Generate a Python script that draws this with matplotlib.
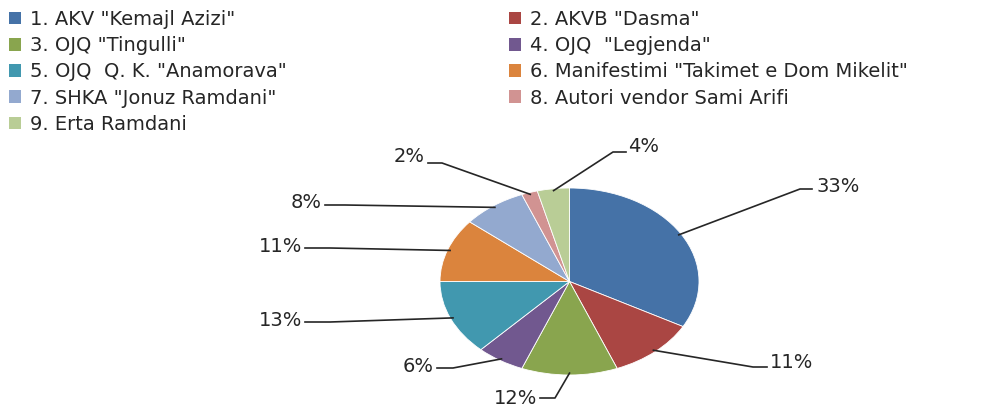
import numpy as np
import matplotlib
matplotlib.use("Agg")
import matplotlib.pyplot as plt
from matplotlib.patches import Patch

categories = ['1. AKV "Kemajl Azizi"', '2. AKVB "Dasma"', '3. OJQ "Tingulli"',
              '4. OJQ  "Legjenda"', '5. OJQ  Q. K. "Anamorava"',
              '6. Manifestimi "Takimet e Dom Mikelit"', '7. SHKA "Jonuz Ramdani"',
              '8. Autori vendor Sami Arifi', '9. Erta Ramdani']
values = [33, 11, 12, 6, 13, 11, 8, 2, 4]
pct_labels = ['33%', '11%', '12%', '6%', '13%', '11%', '8%', '2%', '4%']
colors = ['#4572A7', '#AA4643', '#89A54E', '#71588F', '#4198AF',
          '#DB843D', '#93A9CF', '#D19392', '#B9CD96']

W, H = 1001, 408
fig = plt.figure(figsize=(W / 100, H / 100), dpi=100)

# pie ellipse in pixels: center (569.5, 281.5), rx 129.5, ry 93.5
cx, cy, rx, ry = 569.5, 281.5, 129.5, 93.5
ax = fig.add_axes([(cx - rx) / W, (H - (cy + ry)) / H, 2 * rx / W, 2 * ry / H])
wedges, _ = ax.pie(values, colors=colors, startangle=90, counterclock=False,
                   radius=1, center=(0, 0), frame=True,
                   wedgeprops=dict(edgecolor='white', linewidth=0.6))
ax.set_aspect('auto')
ax.set_xlim(-1, 1)
ax.set_ylim(-1, 1)
ax.axis('off')

def to_data(px, py):
    return (px - cx) / rx, (cy - py) / ry

FS = 14
# label layout: elbow point, end of horizontal segment, text position (pixels)
layout = [
    ((800, 189), (812, 189), (816, 186, 'left')),
    ((753, 367), (767, 367), (770, 362, 'left')),
    ((555, 398), (540, 398), (537, 399, 'right')),
    ((453, 368), (437, 368), (434, 366, 'right')),
    ((330, 322), (305, 322), (302, 321, 'right')),
    ((330, 248), (305, 248), (302, 246, 'right')),
    ((345, 205), (325, 205), (322, 203, 'right')),
    ((442, 163), (428, 163), (425, 157, 'right')),
    ((613, 152), (626, 152), (628, 147, 'left')),
]

total = sum(values)
cum = 0
for v, lab, (elb, end, (tx, ty, ha)) in zip(values, pct_labels, layout):
    mid = cum + v / 2
    cum += v
    ang = np.deg2rad(90 - 360 * mid / total)
    x0, y0 = 0.98 * np.cos(ang), 0.98 * np.sin(ang)
    ex, ey = to_data(*elb)
    hx, hy = to_data(*end)
    ax.plot([x0, ex, hx], [y0, ey, hy], color='#262626', lw=1.2, clip_on=False)
    txd, tyd = to_data(tx, ty)
    ax.text(txd, tyd, lab, ha=ha, va='center', fontsize=FS, color='#262626',
            clip_on=False)

handles = [Patch(facecolor=c, edgecolor='none') for c in colors]
left_idx = [0, 2, 4, 6, 8]
right_idx = [1, 3, 5, 7]
common = dict(frameon=False, fontsize=FS, handlelength=0.62, handleheight=0.62,
              handletextpad=0.45, labelspacing=0.37, borderaxespad=0, borderpad=0,
              labelcolor='#262626')
leg1 = fig.legend([handles[i] for i in left_idx], [categories[i] for i in left_idx],
                  loc='upper left', bbox_to_anchor=(9 / W, 1 - 10 / H), **common)
leg2 = fig.legend([handles[i] for i in right_idx], [categories[i] for i in right_idx],
                  loc='upper left', bbox_to_anchor=(509 / W, 1 - 10 / H), **common)

fig.savefig('out.png', dpi=100, facecolor='white')
